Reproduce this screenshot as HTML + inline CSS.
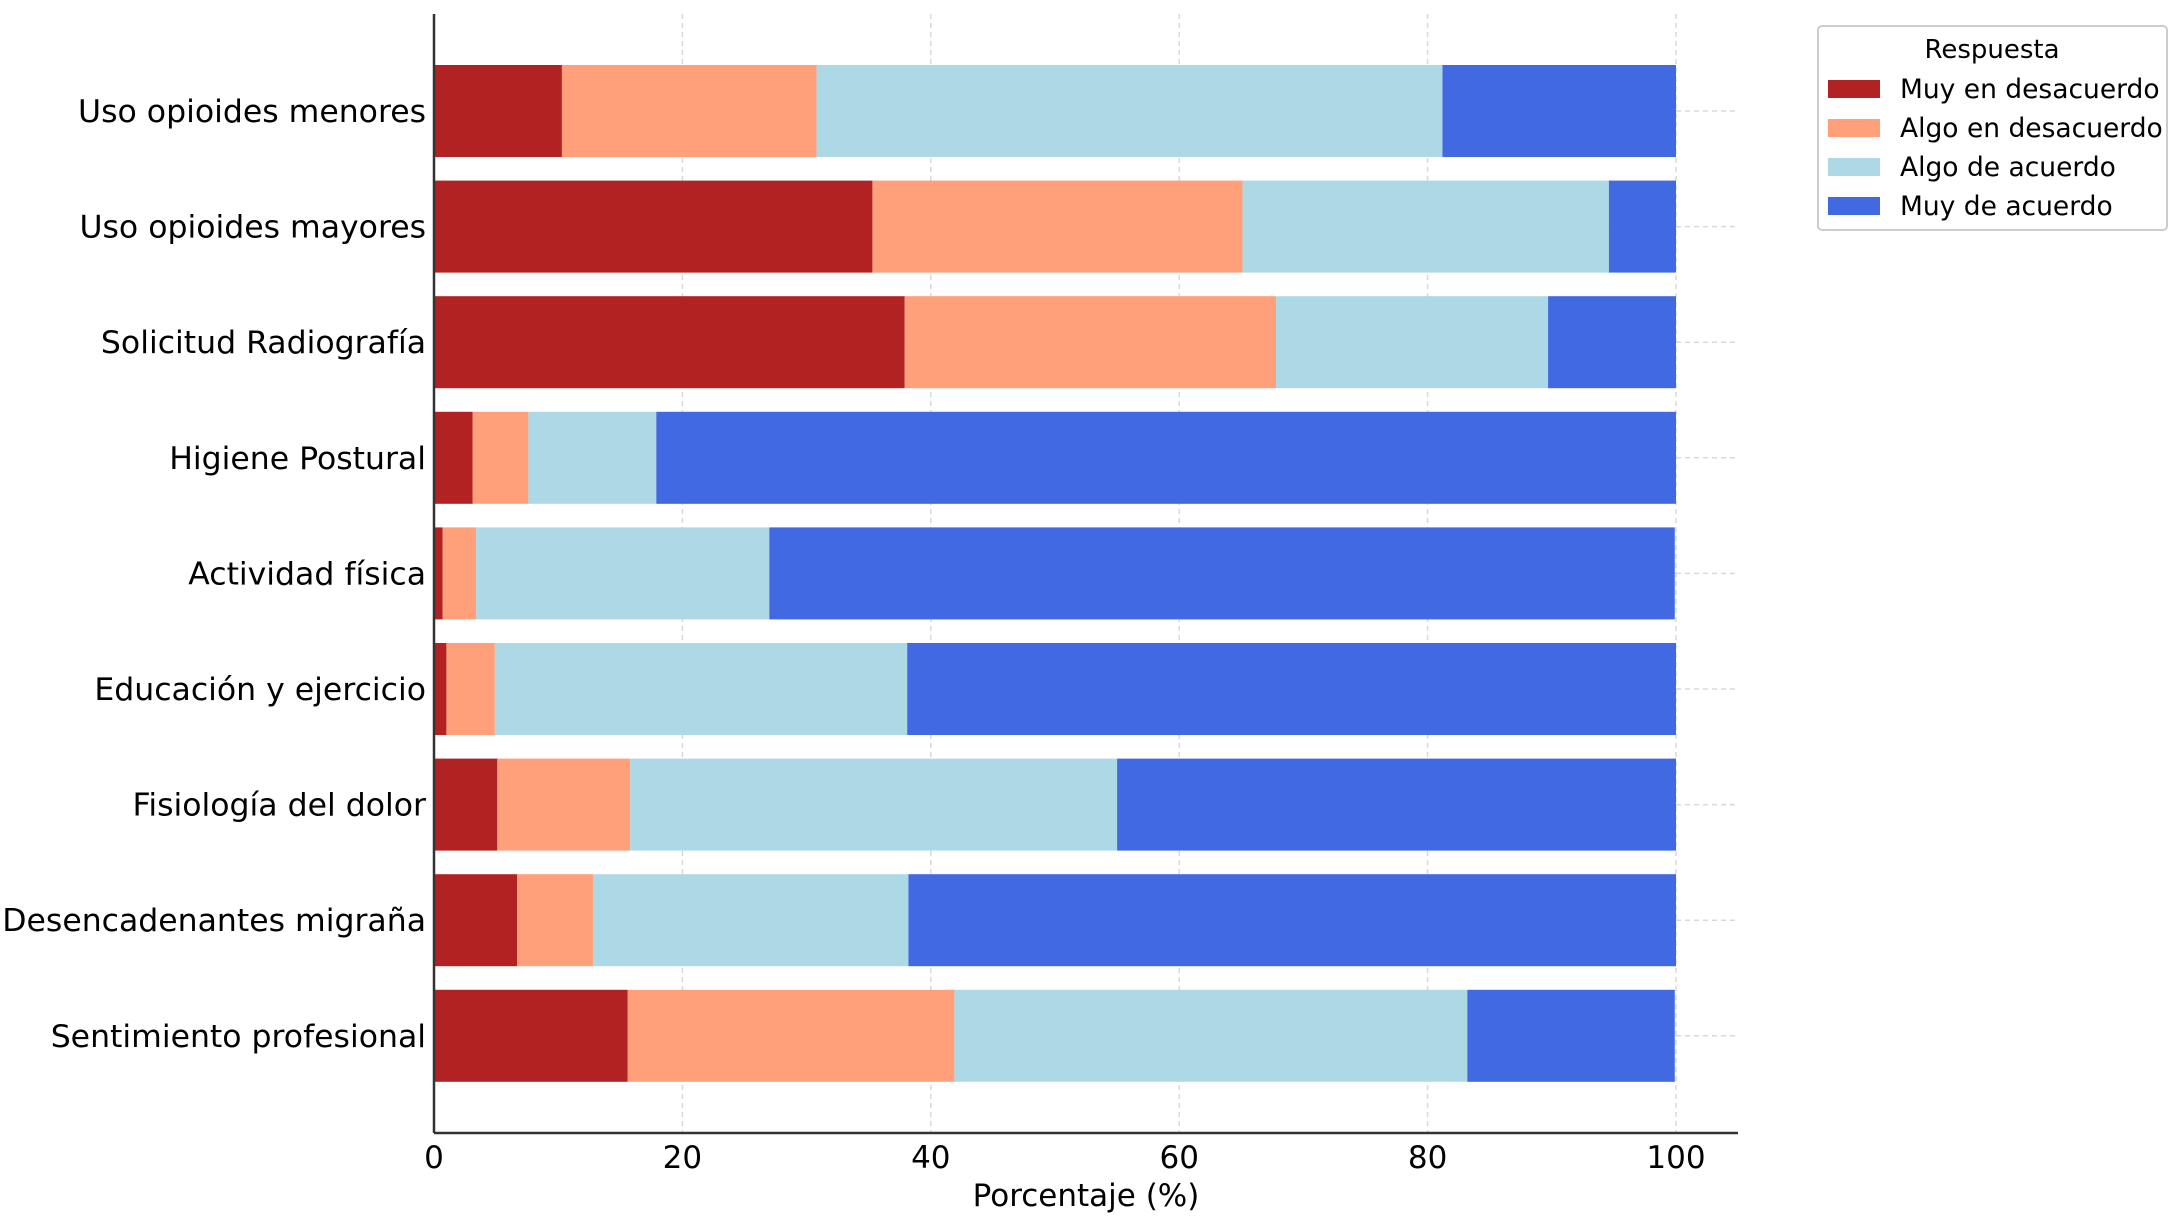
<!DOCTYPE html>
<html><head><meta charset="utf-8"><style>
body{margin:0;background:#fff;}
svg text{font-family:"DejaVu Sans","Liberation Sans",sans-serif;fill:#000;}
</style></head><body>
<svg id="chart" width="2175" height="1220" xmlns="http://www.w3.org/2000/svg"></svg>
<script>
const categories=["Uso opioides menores","Uso opioides mayores","Solicitud Radiografía","Higiene Postural","Actividad física","Educación y ejercicio","Fisiología del dolor","Desencadenantes migraña","Sentimiento profesional"];
const muyDesacuerdo=[10.3,35.3,37.9,3.1,0.7,1.0,5.1,6.7,15.6];
const algoDesacuerdo=[20.5,29.8,29.9,4.5,2.7,3.9,10.7,6.1,26.3];
const algoAcuerdo=[50.4,29.5,21.9,10.3,23.6,33.2,39.2,25.4,41.3];
const muyAcuerdo=[18.8,5.4,10.3,82.1,72.9,61.9,45.0,61.8,16.7];
const seriesNames=["Muy en desacuerdo","Algo en desacuerdo","Algo de acuerdo","Muy de acuerdo"];
const xTicks=[0,20,40,60,80,100];
const colors=["#b22222","#ffa07a","#add8e6","#4169e1"];
const series=[muyDesacuerdo,algoDesacuerdo,algoAcuerdo,muyAcuerdo];
const svg=document.getElementById('chart');
const NS='http://www.w3.org/2000/svg';
const X0=434,X1=1676,Y0=111,DY=115.6,BH=92,AXB=1133,AXT=14,AXR=1738;
const x=v=>X0+(X1-X0)*v/100;
const y=i=>Y0+DY*i;
function el(t,a){const e=document.createElementNS(NS,t);for(const k in a)e.setAttribute(k,a[k]);svg.appendChild(e);return e;}
xTicks.forEach(t=>{const g=el('line',{x1:x(t),x2:x(t),y1:AXT,y2:AXB,stroke:'#d8d8d8','stroke-width':1.5,'stroke-dasharray':'5,4'});

});
categories.forEach((c,i)=>{const g=el('line',{x1:X0,x2:AXR,y1:y(i),y2:y(i),stroke:'#d8d8d8','stroke-width':1.5,'stroke-dasharray':'5,4'});

});
categories.forEach((c,i)=>{let acc=0;series.forEach((s,k)=>{const r=el('rect',{x:x(acc),y:y(i)-BH/2,width:x(acc+s[i])-x(acc),height:BH,fill:colors[k]});


acc+=s[i];});
const t=el('text',{x:X0-8,y:y(i)+11,'text-anchor':'end','font-size':31.5});t.textContent=c;

});
let a=el('line',{x1:X0,x2:X0,y1:AXT,y2:AXB,stroke:'#333','stroke-width':2.5});


a=el('line',{x1:X0,x2:AXR,y1:AXB,y2:AXB,stroke:'#333','stroke-width':2.5});


xTicks.forEach(t=>{const l=el('text',{x:x(t),y:AXB+35,'text-anchor':'middle','font-size':31});l.textContent=t;

});
const xt=el('text',{x:1086,y:1206,'text-anchor':'middle','font-size':31});xt.textContent='Porcentaje (%)';


const lg=el('rect',{x:1818,y:26,width:349,height:204,rx:4,fill:'#fff',stroke:'#ccc','stroke-width':2});


const lt=el('text',{x:1992,y:58,'text-anchor':'middle','font-size':26});lt.textContent='Respuesta';


seriesNames.forEach((n,k)=>{const yy=88+k*39;
const s=el('rect',{x:1828,y:yy-8,width:52,height:18,fill:colors[k]});


const t=el('text',{x:1900,y:yy+10,'font-size':26.5});t.textContent=n;

});
</script>
</body></html>
